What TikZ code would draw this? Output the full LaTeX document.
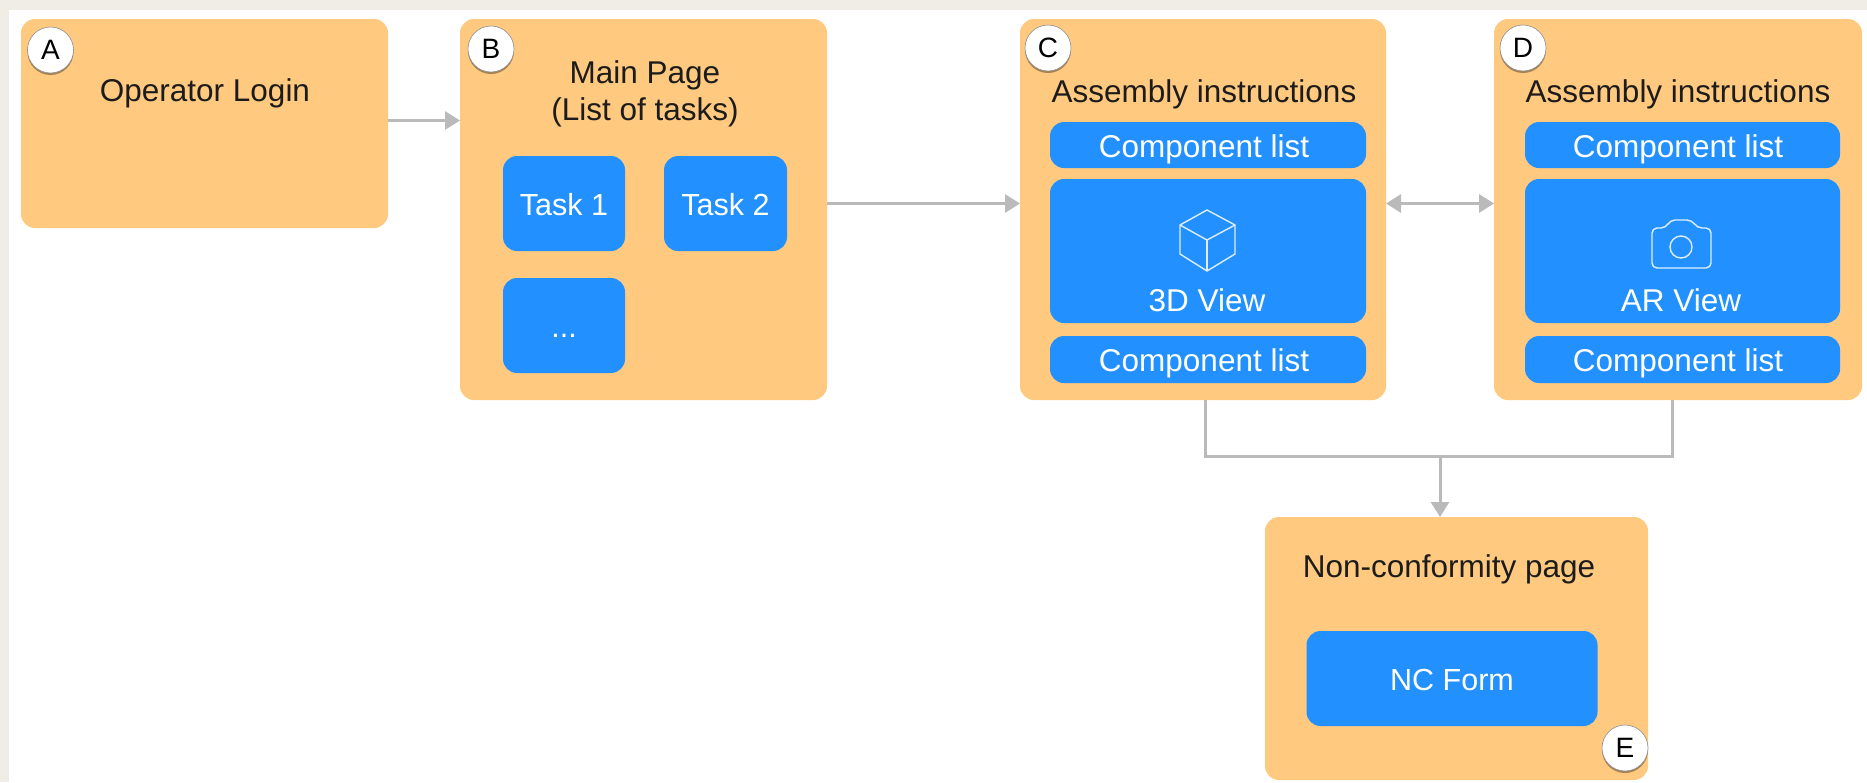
\documentclass[tikz,border=0pt]{standalone}
\usepackage{fontspec}
\setmainfont{Liberation Sans}
\usetikzlibrary{arrows.meta,shadows}
\definecolor{pageorange}{HTML}{FFC97F}
\definecolor{widgetblue}{HTML}{2291FF}
\definecolor{conngray}{HTML}{BABABA}
\definecolor{stripbeige}{HTML}{EFEDE6}
\definecolor{titleblack}{HTML}{1C1C1C}
\tikzset{
    pagebox/.style={fill=pageorange,rounded corners=14pt,inner sep=0pt,outer sep=0pt},
    widgetbox/.style={fill=widgetblue,rounded corners=14pt,inner sep=0pt,outer sep=0pt,
        text=white,text height=26pt,text depth=3pt,font=\fontsize{30.5}{37}\selectfont},
    titletext/.style={anchor=base,inner sep=0pt,text=titleblack,font=\fontsize{31.5}{37}\selectfont},
    viewtext/.style={anchor=base,inner sep=0pt,text=white,font=\fontsize{31.5}{37}\selectfont},
    badge/.style={circle,fill=white,draw=black!45,line width=0.6pt,minimum size=46pt,inner sep=0pt,
        text=black,font=\fontsize{28}{34}\selectfont,
        drop shadow={shadow xshift=0pt,shadow yshift=-2pt,opacity=0.35,fill=black}},
    conn/.style={draw=conngray,line width=3pt},
    conntip/.style={-{Triangle[length=15pt,width=18pt]}},
    icon/.style={draw=white!85!widgetblue,line width=1.4pt,line join=round}
}
\begin{document}
\begin{tikzpicture}[x=1pt,y=-1pt]
    \useasboundingbox (0,0) rectangle (1867,782);
    % bordo
    \fill[stripbeige] (0,0) rectangle (1867,10);
    \fill[stripbeige] (0,0) rectangle (9,782);
    % pagine
    \node[pagebox,minimum width=367pt,minimum height=209pt] (login) at (204.5,123.5) {};
    \node[pagebox,minimum width=367pt,minimum height=381pt] (mainpage) at (643.5,209.5) {};
    \node[pagebox,minimum width=366pt,minimum height=381pt] (assemblyC) at (1203,209.5) {};
    \node[pagebox,minimum width=368pt,minimum height=381pt] (assemblyD) at (1678,209.5) {};
    \node[pagebox,minimum width=383pt,minimum height=263pt] (nonconf) at (1456.5,648.5) {};
    % titoli
    \node[titletext] (loginT) at (205,101) {Operator Login};
    \node[titletext] (mainT) at (645,83) {Main Page};
    \node[titletext] (mainTT) at (645,120) {(List of tasks)};
    \node[titletext] (assemblyCT) at (1204,102) {Assembly instructions};
    \node[titletext] (assemblyDT) at (1678,102) {Assembly instructions};
    \node[titletext] (nonconfT) at (1449,577) {Non-conformity page};
    % task
    \node[widgetbox,minimum width=122pt,minimum height=95pt] (task1) at (564,203.5) {Task 1};
    \node[widgetbox,minimum width=123pt,minimum height=95pt] (task2) at (725.5,203.5) {Task 2};
    \node[widgetbox,minimum width=122pt,minimum height=95pt] (taskdots) at (564,325.5) {...};
    % colonna C
    \node[widgetbox,minimum width=316pt,minimum height=46pt] (listC1) at (1208,145) {};
    \node[widgetbox,minimum width=316pt,minimum height=144pt] (viewC) at (1208,251) {};
    \node[widgetbox,minimum width=316pt,minimum height=47pt] (listC2) at (1208,359.5) {};
    \node[viewtext] (listC1T) at (1204,157) {Component list};
    \node[viewtext] (viewCT) at (1207,311) {3D View};
    \node[viewtext] (listC2T) at (1204,371) {Component list};
    % colonna D
    \node[widgetbox,minimum width=315pt,minimum height=46pt] (listD1) at (1682.5,145) {};
    \node[widgetbox,minimum width=315pt,minimum height=144pt] (viewD) at (1682.5,251) {};
    \node[widgetbox,minimum width=315pt,minimum height=47pt] (listD2) at (1682.5,359.5) {};
    \node[viewtext] (listD1T) at (1678,157) {Component list};
    \node[viewtext] (viewDT) at (1681,311) {AR View};
    \node[viewtext] (listD2T) at (1678,371) {Component list};
    % form
    \node[widgetbox,minimum width=291pt,minimum height=95pt] (ncform) at (1452,678.5) {NC Form};
    % cubo
    \draw[icon] (1207,210) -- (1235,225) -- (1235,254) -- (1207,271) -- (1180,254) -- (1180,225) -- cycle;
    \draw[icon] (1180,225) -- (1207,240) -- (1235,225);
    \draw[icon] (1207,240) -- (1207,271);
    % camera
    \draw[icon,rounded corners=5pt] (1652,228) -- (1666,228) -- (1670,220) -- (1692,220) -- (1697,228)
        -- (1711,228) -- (1711,268) -- (1652,268) -- cycle;
    \draw[icon] (1681,247) circle (11);
    % connettori
    \draw[conn,conntip] ([yshift=3pt]login.east) -- ([yshift=3pt]login.east -| mainpage.west);
    \draw[conn,conntip] ([yshift=6pt]mainpage.east) -- ([yshift=6pt]mainpage.east -| assemblyC.west);
    \draw[conn,{Triangle[length=15pt,width=18pt]}-{Triangle[length=15pt,width=18pt]}]
        ([yshift=6pt]assemblyC.east) -- ([yshift=6pt]assemblyC.east -| assemblyD.west);
    \coordinate (merge) at (1440,456);
    \draw[conn] ([xshift=2pt]assemblyC.south) |- (merge);
    \draw[conn] ([xshift=-6pt]assemblyD.south) |- (merge);
    \draw[conn,conntip] (merge) -- (merge |- nonconf.north);
    % etichette
    \node[badge] (badgeA) at (50.5,50) {A};
    \node[badge] (badgeB) at (491,49) {B};
    \node[badge] (badgeC) at (1048,48) {C};
    \node[badge] (badgeD) at (1523,48) {D};
    \node[badge] (badgeE) at (1625,748) {E};
\end{tikzpicture}
\end{document}
